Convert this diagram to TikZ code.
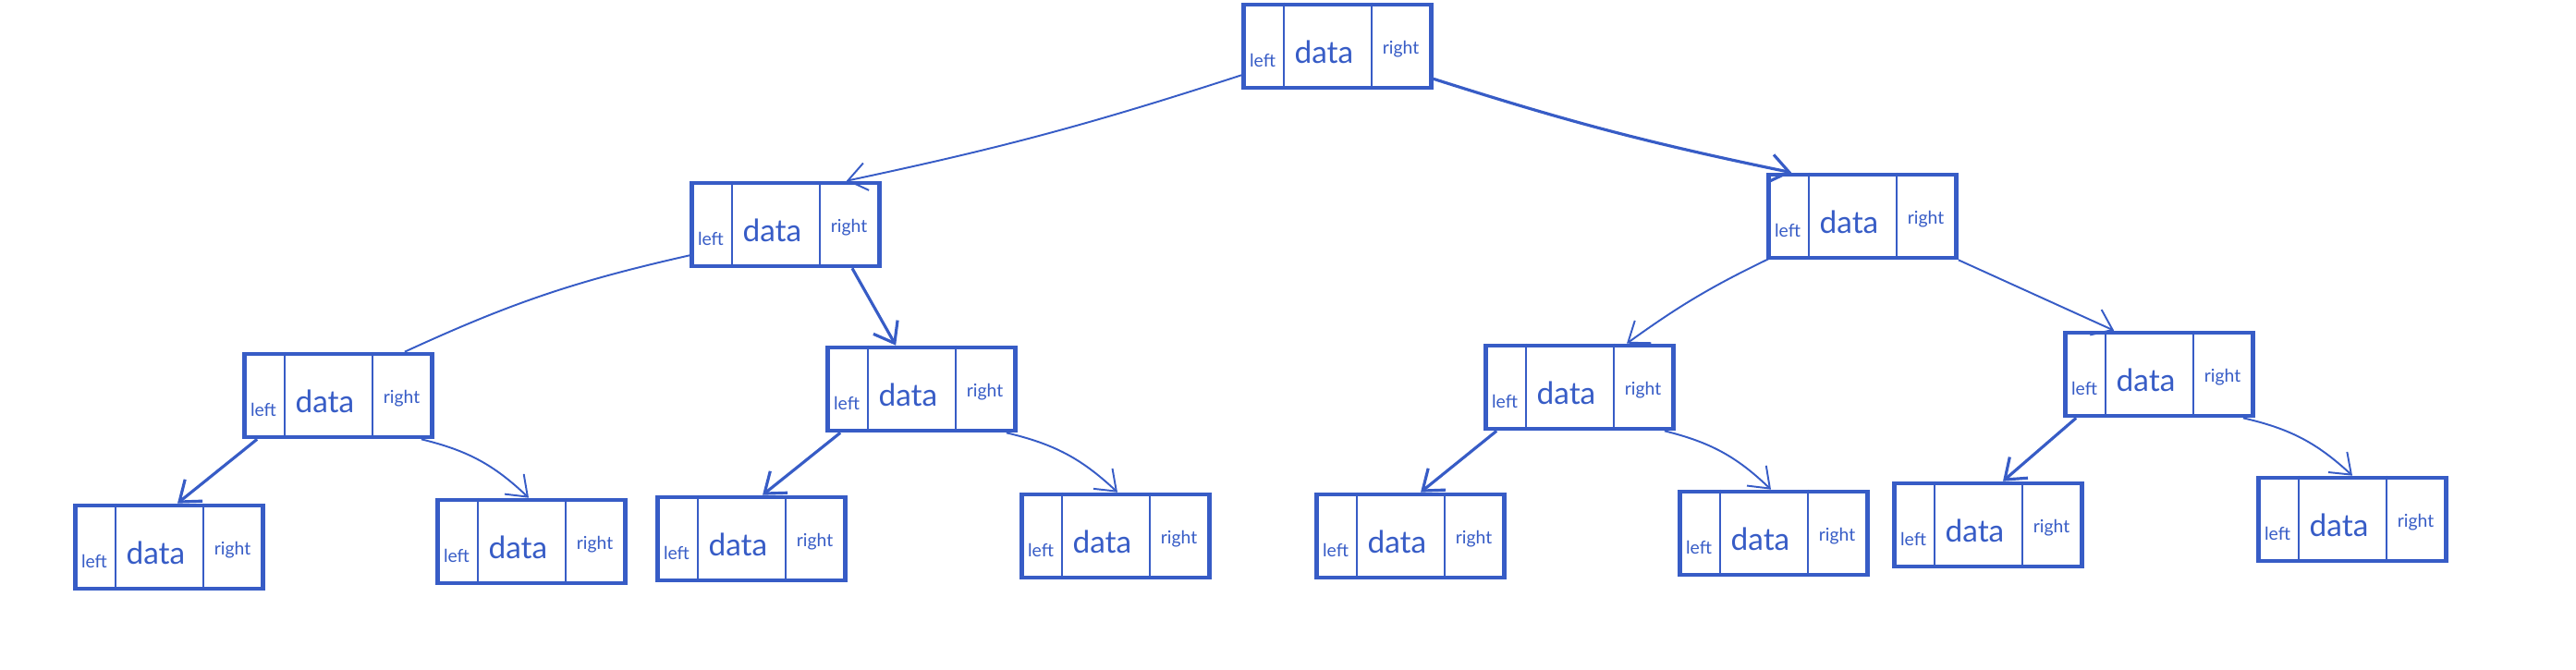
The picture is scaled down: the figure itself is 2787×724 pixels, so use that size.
\documentclass[tikz,border=0pt]{standalone}
\usepackage{fontspec}
\setmainfont{Lato}
\usetikzlibrary{calc,arrows.meta}
\definecolor{ink}{RGB}{55,92,198}
\tikzset{
  box/.style={draw=ink, line width=1.3pt, minimum width=2.03cm, minimum height=0.9cm, inner sep=0pt},
  divline/.style={draw=ink, line width=0.6pt},
  small/.style={text=ink, font=\fontsize{5.5}{6}\selectfont, inner sep=0pt},
  big/.style={text=ink, font=\fontsize{9.5}{11}\selectfont, inner sep=0pt},
  edge/.style={draw=ink, line width=0.9pt},
  thinedge/.style={draw=ink, line width=0.55pt},
  tip/.style={-{Straight Barb[length=2mm,width=3mm]}},
}
\newcommand\treebox[3]{%
  \node[box] (#1) at (#2,#3) {};
  \draw[divline] ($(#1.north west)!0.22!(#1.north east)$) -- ($(#1.south west)!0.22!(#1.south east)$);
  \draw[divline] ($(#1.north west)!0.68!(#1.north east)$) -- ($(#1.south west)!0.68!(#1.south east)$);
  \node[small] (#1l) at ($(#1.west)!0.11!(#1.east)+(0,15)$) {left};
  \node[big] (#1d) at ($(#1.west)!0.43!(#1.east)+(0,6)$) {data};
  \node[small] (#1r) at ($(#1.west)!0.83!(#1.east)+(0,3)$) {right};
}
\begin{document}
\begin{tikzpicture}[x=0.01cm,y=-0.01cm]
\useasboundingbox (0,0) rectangle (2787,724);
\treebox{root}{1447}{50}
\treebox{ll}{850}{243}
\treebox{lr}{2015}{234}
\treebox{a}{366}{428}
\treebox{b}{997}{421}
\treebox{c}{1709}{419}
\treebox{d}{2336}{405}
\treebox{n1}{183}{592}
\treebox{n2}{575}{586}
\treebox{n3}{813}{583}
\treebox{n4}{1207}{580}
\treebox{n5}{1526}{580}
\treebox{n6}{1919}{577}
\treebox{n7}{2151}{568}
\treebox{n8}{2545}{562}
% edges
\draw[thinedge,tip] ($(root.south west)+(0,-16)$) to[bend left=3] ($(ll.north east)+(-38,0)$);
\draw[edge,tip] ($(root.south east)+(0,-12)$) to[bend right=3] ($(lr.north west)+(27,0)$);
\draw[thinedge] ($(ll.south west)+(0,-14)$) to[bend right=6] ($(a.north east)+(-32,0)$);
\draw[edge,tip] ($(ll.south)+(72,0)$) -- ($(b.north west)+(76,0)$);
\draw[thinedge,tip] ($(lr.south west)+(4,-2)$) to[bend right=5] ($(c.north)+(51,0)$);
\draw[thinedge,tip] (lr.south east) -- ($(d.north west)+(55,0)$);
\draw[edge,tip] ($(a.south west)+(16,0)$) -- ($(n1.north)+(9,0)$);
\draw[thinedge,tip] ($(a.south east)+(-14,0)$) to[bend left=15] ($(n2.north)+(-3,0)$);
\draw[edge,tip] ($(b.south west)+(16,0)$) -- ($(n3.north)+(12,0)$);
\draw[thinedge,tip] ($(b.south east)+(-12,0)$) to[bend left=15] ($(n4.north)+(2,0)$);
\draw[edge,tip] ($(c.south west)+(14,0)$) -- ($(n5.north)+(11,0)$);
\draw[thinedge,tip] ($(c.south east)+(-12,0)$) to[bend left=15] ($(n6.north)+(-3,0)$);
\draw[edge,tip] ($(d.south west)+(14,0)$) -- ($(n7.north)+(16,0)$);
\draw[thinedge,tip] ($(d.south east)+(-13,0)$) to[bend left=15] ($(n8.north)+(0,0)$);
\end{tikzpicture}
\end{document}
